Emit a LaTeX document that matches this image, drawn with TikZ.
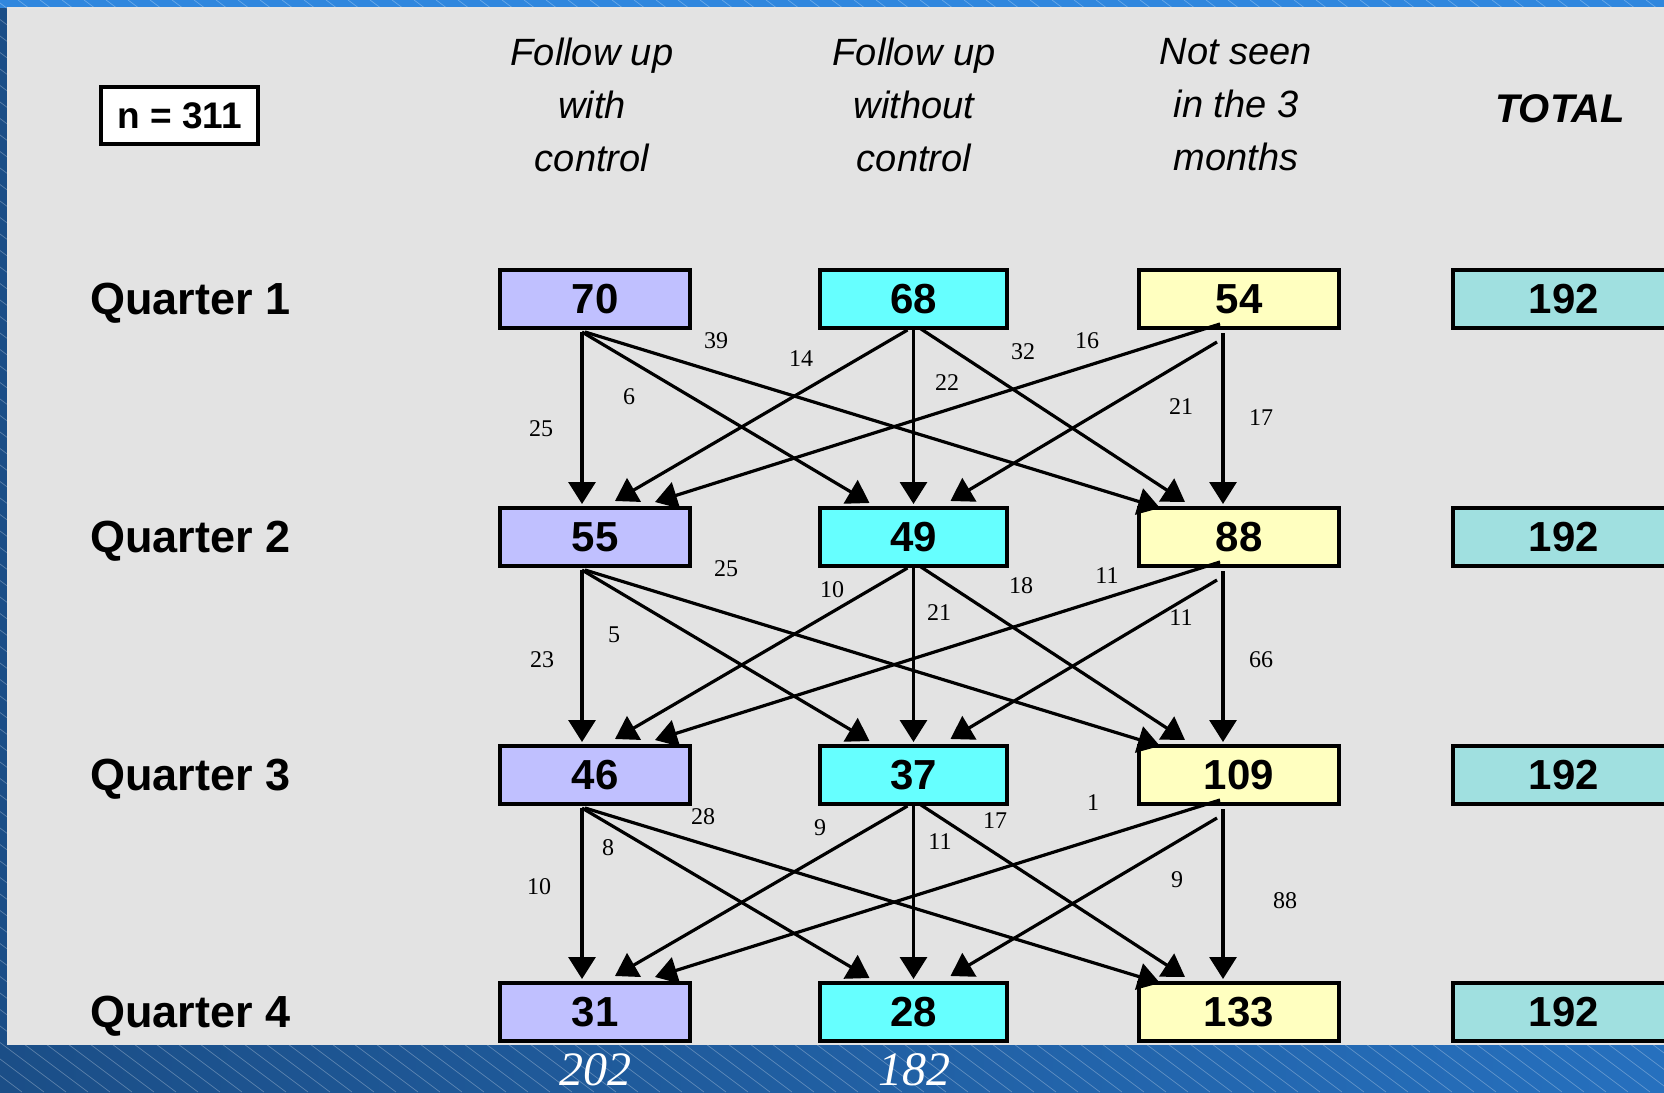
\documentclass[tikz,border=0pt]{standalone}
\usepackage{fontspec}
\setmainfont{Liberation Serif}
\newfontfamily\arialf{Liberation Sans}
\usetikzlibrary{arrows.meta,calc}
\definecolor{lav}{RGB}{192,192,255}
\definecolor{cya}{RGB}{102,255,255}
\definecolor{yel}{RGB}{255,255,192}
\definecolor{tot}{RGB}{160,224,224}
\definecolor{panel}{RGB}{227,227,227}
\definecolor{bgl}{RGB}{27,78,135}
\definecolor{bgr}{RGB}{38,112,190}
\definecolor{bgtop}{RGB}{48,135,222}
\begin{document}
\begin{tikzpicture}[x=0.5pt,y=-0.5pt,
  box/.style={draw=black, line width=2pt, minimum height=29pt, inner sep=0pt,
    font=\arialf\bfseries\fontsize{21}{24}\selectfont},
  ca/.style={box, fill=lav, minimum width=95pt},
  cb/.style={box, fill=cya, minimum width=93.5pt},
  cc/.style={box, fill=yel, minimum width=100pt},
  cd/.style={box, fill=tot, minimum width=111pt},
  nbox/.style={draw=black, fill=white, line width=2pt, minimum width=78.5pt, minimum height=28.5pt,
    inner sep=0pt, font=\arialf\bfseries\fontsize{18.5}{22}\selectfont},
  flow/.style={line width=1.6pt, -{Triangle[length=11pt,width=13.5pt]}},
  lab/.style={font=\fontsize{12}{14}\selectfont, inner sep=0pt},
  hdr/.style={font=\arialf\itshape\fontsize{19}{26.5}\selectfont, align=center, inner sep=0pt},
  qlab/.style={font=\arialf\bfseries\fontsize{22.5}{26}\selectfont, anchor=west, inner sep=0pt},
  sumlab/.style={text=white, font=\itshape\fontsize{24}{28}\selectfont, inner sep=0pt},
]
\useasboundingbox (0,0) rectangle (1664,1092);
% background
\shade[left color=bgl, right color=bgr] (0,0) rectangle (1664,1092);
\fill[bgtop] (0,0) rectangle (1664,8);
\begin{scope}
\clip (0,0) rectangle (1664,1092);
\foreach \i in {-1500,-1478,...,1664} {
  \draw[white, opacity=0.28, line width=0.35pt] (\i,0) -- ++(1456,1092);
}
\end{scope}
\fill[panel] (8,8) rectangle (1680,1045);
\draw[white!80!gray, line width=1pt] (8,1045) -- (8,8) -- (1680,8);

% n box and headers
\node[nbox] (n) at (179.5,115.5) {n = 311};
\node[hdr] (h1) at (592,105) {Follow up\\with\\control};
\node[hdr] (h2) at (914,105) {Follow up\\without\\control};
\node[hdr] (h3) at (1236,105) {Not seen\\in the 3\\months};
\node[hdr, font=\arialf\bfseries\itshape\fontsize{20}{24}\selectfont] (h4) at (1560,109) {TOTAL};

% quarter labels
\node[qlab] (q1) at (90,303) {Quarter 1};
\node[qlab] (q2) at (90,541) {Quarter 2};
\node[qlab] (q3) at (90,779) {Quarter 3};
\node[qlab] (q4) at (90,1016) {Quarter 4};

% boxes
\node[ca] (a1) at (595,299) {70};
\node[cb] (b1) at (913.5,299) {68};
\node[cc] (c1) at (1239,299) {54};
\node[cd] (d1) at (1564,299) {192};
\node[ca] (a2) at (595,537) {55};
\node[cb] (b2) at (913.5,537) {49};
\node[cc] (c2) at (1239,537) {88};
\node[cd] (d2) at (1564,537) {192};
\node[ca] (a3) at (595,775) {46};
\node[cb] (b3) at (913.5,775) {37};
\node[cc] (c3) at (1239,775) {109};
\node[cd] (d3) at (1564,775) {192};
\node[ca] (a4) at (595,1012) {31};
\node[cb] (b4) at (913.5,1012) {28};
\node[cc] (c4) at (1239,1012) {133};
\node[cd] (d4) at (1564,1012) {192};

% flows
\foreach \s/\t in {1/2,2/3,3/4} {
  \draw[flow] ([shift={(-13,2)}]a\s.south) -- ([shift={(-13,-2)}]a\t.north);
  \draw[flow] ([shift={(-13,2)}]a\s.south) -- ([shift={(-44,-3)}]b\t.north);
  \draw[flow] ([shift={(-10,2)}]a\s.south) -- ([shift={(-79,2)}]c\t.north);
  \draw[flow] ([shift={(-6,0)}]b\s.south) -- ([shift={(20,-5)}]a\t.north);
  \draw[flow] ([shift={(0,0)}]b\s.south) -- ([shift={(0,-2)}]b\t.north);
  \draw[flow] ([shift={(6,-2)}]b\s.south) -- ([shift={(-54,-4)}]c\t.north);
  \draw[flow] ([shift={(-19,-6)}]c\s.south) -- ([shift={(60,-4)}]a\t.north);
  \draw[flow] ([shift={(-22,12)}]c\s.south) -- ([shift={(37,-5)}]b\t.north);
  \draw[flow] ([shift={(-16,3)}]c\s.south) -- ([shift={(-16,-2)}]c\t.north);
}

% flow labels
\node[lab] (l11) at (716,341) {39};
\node[lab] (l12) at (801,359) {14};
\node[lab] (l13) at (1023,352) {32};
\node[lab] (l14) at (1087,341) {16};
\node[lab] (l15) at (629,397) {6};
\node[lab] (l16) at (947,383) {22};
\node[lab] (l17) at (1181,407) {21};
\node[lab] (l18) at (541,429) {25};
\node[lab] (l19) at (1261,418) {17};

\node[lab] (l21) at (726,569) {25};
\node[lab] (l22) at (832,590) {10};
\node[lab] (l23) at (1021,586) {18};
\node[lab] (l24) at (1107,576) {11};
\node[lab] (l25) at (614,635) {5};
\node[lab] (l26) at (939,613) {21};
\node[lab] (l27) at (1181,618) {11};
\node[lab] (l28) at (542,660) {23};
\node[lab] (l29) at (1261,660) {66};

\node[lab] (l31) at (703,817) {28};
\node[lab] (l32) at (820,828) {9};
\node[lab] (l33) at (995,821) {17};
\node[lab] (l34) at (1093,803) {1};
\node[lab] (l35) at (608,848) {8};
\node[lab] (l36) at (940,842) {11};
\node[lab] (l37) at (1177,880) {9};
\node[lab] (l38) at (539,887) {10};
\node[lab] (l39) at (1285,901) {88};

% column sums
\node[sumlab] (s1) at (595,1070) {202};
\node[sumlab] (s2) at (914,1070) {182};
\end{tikzpicture}
\end{document}
